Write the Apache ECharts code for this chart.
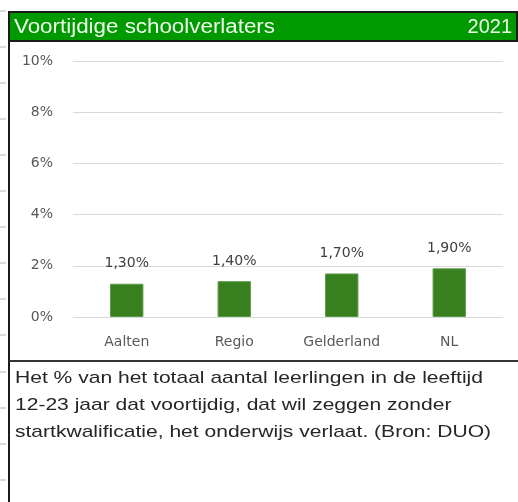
<!DOCTYPE html>
<html>
<head>
<meta charset="utf-8">
<script src="https://cdn.jsdelivr.net/npm/echarts@6/dist/echarts.min.js"></script>
<style>
  html, body { margin: 0; padding: 0; background: #fff; }
  #chart { width: 518px; height: 502px; }
</style>
</head>
<body>
<div id="chart"></div>
<script>
var titel = 'Voortijdige schoolverlaters';
var jaar = '2021';
var gebieden = ['Aalten', 'Regio', 'Gelderland', 'NL'];
var percentages = [1.3, 1.4, 1.7, 1.9];
var toelichting = [
    'Het % van het totaal aantal leerlingen in de leeftijd',
    '12-23 jaar dat voortijdig, dat wil zeggen zonder',
    'startkwalificatie, het onderwijs verlaat. (Bron: DUO)'
];
var rijY = [11, 47, 83, 119, 155, 191, 227, 263, 299, 335, 372, 408, 444, 480];

var kopFont = '20px "Liberation Sans", Arial, sans-serif';
var tekstFont = '17px "Liberation Sans", Arial, sans-serif';
var asFont = 'DejaVu Sans, sans-serif';

// breedte meten zodat de tekst net zo breed loopt als in excel
var ctx = document.createElement('canvas').getContext('2d');
function breedte(tekst, font) {
    ctx.font = font;
    return ctx.measureText(tekst).width;
}
var titelSchaal = 261 / breedte(titel, kopFont);
var tekstSchaal = 468 / breedte(toelichting[0], tekstFont);

var chart = echarts.init(document.getElementById('chart'));

var elementen = [];
rijY.forEach(function (y) {
    elementen.push({
        type: 'line', shape: { x1: 0, y1: y, x2: 6, y2: y },
        style: { stroke: '#b8b8b8', lineWidth: 1 }
    });
});
elementen.push({
    type: 'rect', shape: { x: 9, y: 12, width: 508, height: 29 },
    style: { fill: '#009900', stroke: '#1a1a1a', lineWidth: 2 }
});
elementen.push({
    type: 'text', x: 14, y: 27, scaleX: titelSchaal,
    style: { text: titel, fill: '#effdec', font: kopFont, verticalAlign: 'middle' }
});
elementen.push({
    type: 'text', x: 512, y: 27,
    style: { text: jaar, fill: '#effdec', font: kopFont, align: 'right', verticalAlign: 'middle' }
});
elementen.push({
    type: 'line', shape: { x1: 9, y1: 12, x2: 9, y2: 502 },
    style: { stroke: '#1a1a1a', lineWidth: 2 }
});
elementen.push({
    type: 'line', shape: { x1: 9, y1: 361, x2: 518, y2: 361 },
    style: { stroke: '#333', lineWidth: 2 }
});
toelichting.forEach(function (regel, i) {
    elementen.push({
        type: 'text', x: 15, y: 378 + i * 27, scaleX: tekstSchaal,
        style: { text: regel, fill: '#262626', font: tekstFont, verticalAlign: 'middle' }
    });
});

var option = {
    animation: false,
    grid: { left: 73, right: 15, top: 61, bottom: 185 },
    xAxis: {
        type: 'category',
        data: gebieden,
        axisLine: { show: false },
        axisTick: { show: false },
        axisLabel: { color: '#595959', fontSize: 14, fontFamily: asFont, margin: 18 }
    },
    yAxis: {
        type: 'value',
        min: 0, max: 10, interval: 2,
        axisLabel: {
            color: '#595959', fontSize: 14, fontFamily: asFont, margin: 20,
            formatter: '{value}%'
        },
        splitLine: { lineStyle: { color: '#d9d9d9', width: 1 } }
    },
    series: [{
        type: 'bar',
        data: percentages,
        barWidth: '31%',
        itemStyle: { color: '#38801f', borderColor: '#5a9a45', borderWidth: 1 },
        label: {
            show: true, position: 'top', distance: 13,
            color: '#404040', fontSize: 14, fontFamily: asFont,
            formatter: function (p) { return p.value.toFixed(2).replace('.', ',') + '%'; }
        }
    }],
    graphic: elementen
};
chart.setOption(option);
</script>
</body>
</html>
